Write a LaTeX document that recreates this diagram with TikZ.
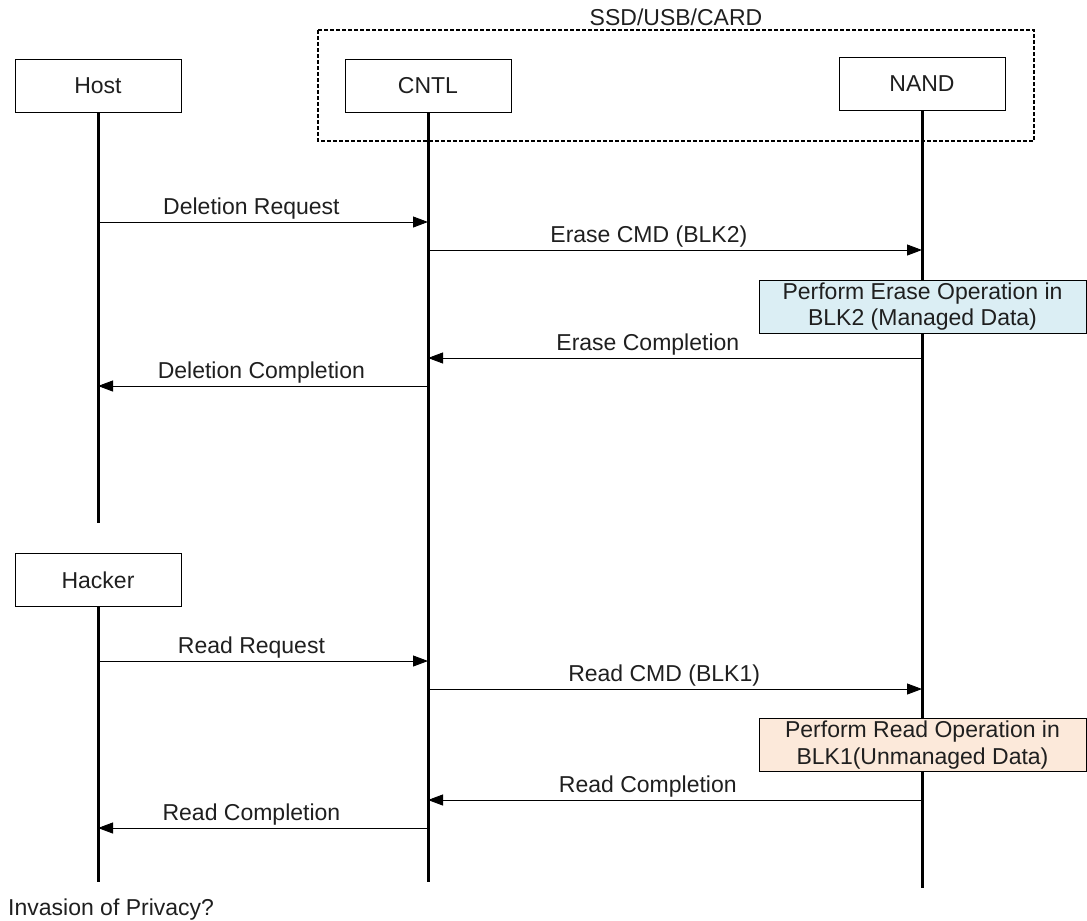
\documentclass[tikz,border=0pt]{standalone}
\usepackage{fontspec}
\setmainfont{Liberation Sans}
\usetikzlibrary{arrows.meta,positioning}

\definecolor{eraseblue}{RGB}{219,238,244}
\definecolor{readpeach}{RGB}{252,233,218}

\begin{document}
\begin{tikzpicture}[x=1pt,y=-1pt,
  every node/.style={font=\fontsize{23}{26.5}\selectfont,text=black!88},
  actor/.style={draw,line width=0.9pt,minimum width=166pt,minimum height=53pt,inner sep=0pt},
  life/.style={line width=3pt},
  msg/.style={line width=0.9pt,-{Triangle[length=15pt,width=11pt]}},
  lbl/.style={above,inner sep=3pt,text depth=4pt},
  opbox/.style={draw,line width=0.9pt,minimum width=327pt,minimum height=53pt,
    inner sep=0pt,align=center}]
\useasboundingbox (0,0) rectangle (1087,921);

% device boundary
\draw[line width=1.4pt,dash pattern=on 4pt off 2pt] (318,30) rectangle (1034,141);
\node (dev) at (676,17) {SSD/USB/CARD};

% participants
\node[actor] (host)   at (98,85.5)  {Host};
\node[actor] (cntl)   at (428,85.5) {CNTL};
\node[actor] (nand)   at (922,84)   {NAND};
\node[actor] (hacker) at (98,580)   {Hacker};

% lifelines
\foreach \who/\stop in {host/523,cntl/882,nand/888,hacker/882} {
  \coordinate (\who-end) at (\who.south |- 0,\stop);
  \draw[life] (\who.south) -- (\who-end);
}

% deletion
\draw[msg] (host.south |- 0,222) -- node[lbl,pos=.465] {Deletion Request} (cntl.south |- 0,222);
\draw[msg] (cntl.south |- 0,250) -- node[lbl,pos=.447] {Erase CMD (BLK2)} (nand.south |- 0,250);
\node[opbox,fill=eraseblue] (erase) at (922.5,306.5) {Perform Erase Operation in\\BLK2 (Managed Data)};
\draw[msg] (nand.south |- 0,358) -- node[lbl,pos=.555] {Erase Completion} (cntl.south |- 0,358);
\draw[msg] (cntl.south |- 0,386) -- node[lbl,pos=.505] {Deletion Completion} (host.south |- 0,386);

% read back
\draw[msg] (hacker.south |- 0,661) -- node[lbl,pos=.465] {Read Request} (cntl.south |- 0,661);
\draw[msg] (cntl.south |- 0,689) -- node[lbl,pos=.478] {Read CMD (BLK1)} (nand.south |- 0,689);
\node[opbox,fill=readpeach] (read) at (922.5,745) {Perform Read Operation in\\BLK1(Unmanaged Data)};
\draw[msg] (nand.south |- 0,800) -- node[lbl,pos=.555] {Read Completion} (cntl.south |- 0,800);
\draw[msg] (cntl.south |- 0,828) -- node[lbl,pos=.535] {Read Completion} (hacker.south |- 0,828);

\node[anchor=west,inner sep=0pt] (privacy) at (8,910) {Invasion of Privacy?};
\end{tikzpicture}
\end{document}
